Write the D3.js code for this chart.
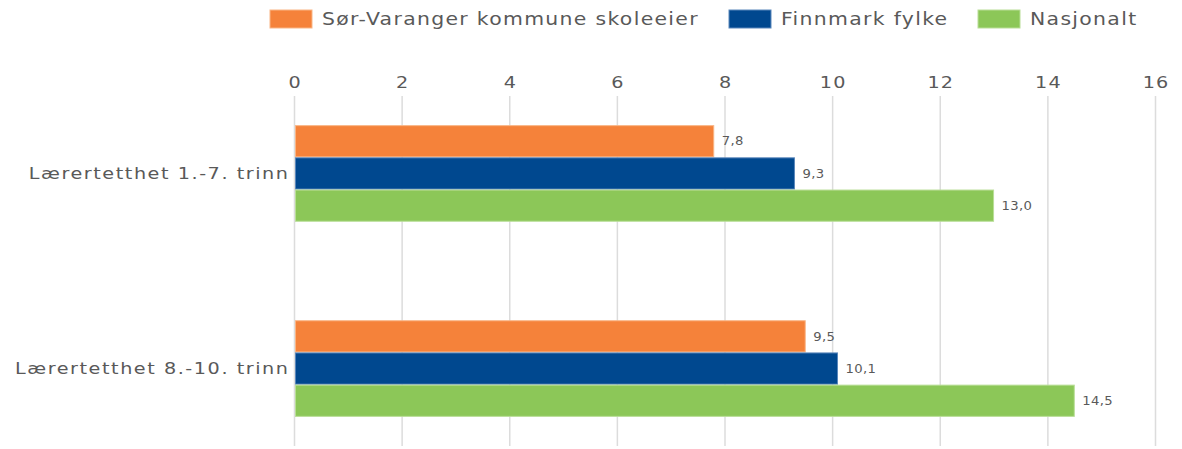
<!DOCTYPE html>
<html lang="no">
<head>
<meta charset="UTF-8">
<title>Lærertetthet</title>
<style>
  body, html { margin: 0; background: #fff; font-family: "DejaVu Sans", Verdana, sans-serif; }
  #chart { width: 1182px; height: 449px; }
  text { fill: #595959; }
</style>
<script src="https://d3js.org/d3.v7.min.js"></script>
</head>
<body>
<div id="chart"></div>
<script>
const categories = ["Lærertetthet 1.-7. trinn", "Lærertetthet 8.-10. trinn"];
const seriesNames = ["Sør-Varanger kommune skoleeier", "Finnmark fylke", "Nasjonalt"];
const seriesColors = ["#F5823A", "#00488F", "#8CC758"];
const seriesStroke = ["#F9B585", "#5A87BC", "#B9DE97"];
const sorVaranger = [7.8, 9.5];
const finnmark = [9.3, 10.1];
const nasjonalt = [13.0, 14.5];
const xTicks = [0, 2, 4, 6, 8, 10, 12, 14, 16];

const values = [sorVaranger, finnmark, nasjonalt];

const width = 1182, height = 449;
const sx = 1.2; // widen glyphs a bit, the original font is broad
const svg = d3.select("#chart").append("svg")
    .attr("width", width)
    .attr("height", height);

const x = d3.scaleLinear().domain([0, 16]).range([294, 1155]);
const y0 = d3.scaleBand().domain(categories).range([96, 446])
    .paddingInner(0.5).paddingOuter(0.147);
const y1 = d3.scaleBand().domain(seriesNames).range([0, y0.bandwidth()]).padding(0.03);

// gridlines
svg.append("g")
    .selectAll("line")
    .data(xTicks)
    .enter().append("line")
    .attr("x1", d => x(d) + 0.5).attr("x2", d => x(d) + 0.5)
    .attr("y1", 96).attr("y2", 446)
    .attr("stroke", "#DCDCDC")
    .attr("stroke-width", 1.5);

// top axis labels
const axis = d3.axisTop(x).tickValues(xTicks).tickSize(0).tickPadding(0);
const ax = svg.append("g").attr("transform", "translate(0,88)").call(axis);
ax.select(".domain").remove();
ax.selectAll("text")
    .attr("y", 0)
    .attr("transform", `scale(${sx},1)`)
    .style("font-family", "'DejaVu Sans', Verdana, sans-serif")
    .style("font-size", "16px")
    .style("letter-spacing", "1px")
    .attr("dx", "0.5px")
    .attr("fill", "#595959");

// bars
const groups = svg.append("g")
    .selectAll("g")
    .data(categories)
    .enter().append("g")
    .attr("transform", d => `translate(0,${y0(d)})`);

groups.selectAll("rect")
    .data((c, ci) => seriesNames.map((s, si) => ({ s, si, v: values[si][ci] })))
    .enter().append("rect")
    .attr("x", x(0) + 1.5)
    .attr("y", d => y1(d.s))
    .attr("width", d => x(d.v) - x(0) - 1.5)
    .attr("height", y1.bandwidth())
    .attr("fill", d => seriesColors[d.si])
    .attr("stroke", d => seriesStroke[d.si])
    .attr("stroke-width", 1);

groups.selectAll("text.val")
    .data((c, ci) => seriesNames.map((s, si) => ({ s, si, v: values[si][ci] })))
    .enter().append("text")
    .attr("class", "val")
    .attr("transform", d => `translate(${x(d.v) + 8},${y1(d.s) + y1.bandwidth() / 2}) scale(1.1,1)`)
    .attr("dy", "0.35em")
    .style("font-size", "12px")
    .style("letter-spacing", "0.3px")
    .text(d => d.v.toFixed(1).replace(".", ","));

// category labels
svg.append("g")
    .selectAll("text")
    .data(categories)
    .enter().append("text")
    .attr("transform", d => `translate(${288 + 1.3 * sx},${y0(d) + y0.bandwidth() / 2}) scale(${sx},1)`)
    .attr("dy", "0.35em")
    .attr("text-anchor", "end")
    .style("font-size", "16px")
    .style("letter-spacing", "1.3px")
    .text(d => d);

// legend
const legendX = [270, 729, 978];
const legend = svg.append("g")
    .selectAll("g")
    .data(seriesNames)
    .enter().append("g")
    .attr("transform", (d, i) => `translate(${legendX[i]},10)`);
legend.append("rect")
    .attr("width", 42).attr("height", 18)
    .attr("fill", (d, i) => seriesColors[i])
    .attr("stroke", (d, i) => seriesStroke[i]);
legend.append("text")
    .attr("transform", `translate(52,9) scale(${sx},1)`)
    .attr("dy", "0.36em")
    .style("font-size", "17px")
    .style("letter-spacing", "1.1px")
    .text(d => d);
</script>
</body>
</html>
